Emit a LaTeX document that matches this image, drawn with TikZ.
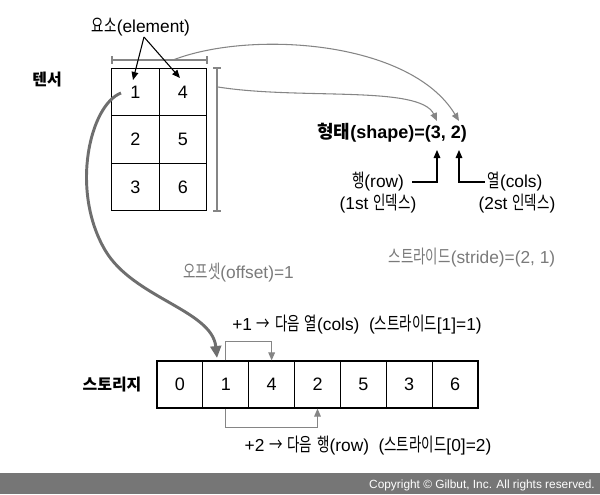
\documentclass[tikz,border=0pt]{standalone}
\usepackage{fontspec}
\setmainfont{Liberation Sans}
\newfontfamily\krreg[Scale=1.08,FakeStretch=0.72]{Noto Sans CJK KR}
\newfontfamily\krbold{Noto Sans CJK KR}
\let\kr\krreg
\def\lat{\rmfamily}
\XeTeXinterchartokenstate=1
\newXeTeXintercharclass\hangulclass
\count255="AC00
\loop
  \XeTeXcharclass\count255=\hangulclass
  \advance\count255 by 1
\ifnum\count255<"D7A4 \repeat
\XeTeXinterchartoks 0 \hangulclass = {\kr}
\XeTeXinterchartoks 4095 \hangulclass = {\kr}
\XeTeXinterchartoks \hangulclass 0 = {\lat}
\XeTeXinterchartoks \hangulclass 4095 = {\lat}
\newcommand\rarr{{\kr →}}
\usetikzlibrary{arrows.meta}
\definecolor{lg}{HTML}{858585}
\definecolor{dg}{HTML}{6E6E6E}
\definecolor{tg}{HTML}{7A7A7A}
\definecolor{band}{HTML}{767676}
\begin{document}
\begin{tikzpicture}[x=0.75pt,y=-0.75pt,
  cell/.style={draw,line width=0.9pt,inner sep=0pt,minimum width=35.6pt,minimum height=35.75pt,font=\fontsize{13.5}{15}\selectfont},
  scell/.style={cell,minimum width=34.4pt,minimum height=35.25pt},
  lab/.style={font=\fontsize{13}{15}\selectfont,inner sep=0pt},
  glab/.style={lab,text=tg},
  blab/.style={font={\let\kr\krbold\bfseries\fontsize{12}{14}\selectfont},inner sep=0pt},
  garr/.style={draw=lg,line width=0.8pt,-{Triangle[length=6pt,width=5pt]}},
  barr/.style={draw=black,line width=0.8pt,-{Triangle[length=6pt,width=5pt]}},
  bigarr/.style={draw=dg,line width=2.2pt,-{Triangle[length=9pt,width=8pt]}},
  brk/.style={draw=lg,line width=0.8pt}
]
\useasboundingbox (0,0) rectangle (600,494);
% tensor
\node[cell] (t11) at (135.5,92) {1};
\node[cell] (t12) at (183,92) {4};
\node[cell] (t21) at (135.5,139.5) {2};
\node[cell] (t22) at (183,139.5) {5};
\node[cell] (t31) at (135.5,187) {3};
\node[cell] (t32) at (183,187) {6};
\node[blab] (tensor) at (47,80) {텐서};
% brackets
\draw[brk] (112,56) -- (112,64) (112,60) -- (207,60) (207,56) -- (207,64);
\draw[brk] (213,68) -- (221,68) (217,68) -- (217,211) (213,211) -- (221,211);
\coordinate (tb) at (173,60);
\coordinate (rb) at (218,87);
% element label
\node[lab] (el) at (141,27) {요소(element)};
\coordinate (ela) at (144,37);
\coordinate (e1) at (133,80);
\coordinate (e4) at (180,78);
\draw[barr] (ela) -- (e1);
\draw[barr] (ela) -- (e4);
% shape
\node[blab,font={\let\kr\krbold\bfseries\fontsize{13.5}{16}\selectfont}] (shape) at (392,133) {형태(shape)=(3, 2)};
\coordinate (c3t) at (437,121);
\coordinate (c2t) at (459,121);
\coordinate (c3b) at (437,150);
\coordinate (c2b) at (459,150);
\draw[garr] (tb) .. controls (250,30) and (410,40) .. (c2t);
\draw[garr] (rb) .. controls (300,100) and (420,85) .. (c3t);
\node[lab] (row) at (378,182) {행(row)};
\node[lab] (rowi) at (378,204) {(1st 인덱스)};
\node[lab] (col) at (515,182) {열(cols)};
\node[lab] (coli) at (517,204) {(2st 인덱스)};
\draw[barr] ([xshift=6pt]row.east) -| (c3b);
\draw[barr] ([xshift=-2pt]col.west) -| (c2b);
\node[glab] (stride) at (472,258) {스트라이드(stride)=(2, 1)};
\node[glab] (offset) at (238.5,273) {오프셋(offset)=1};
% storage
\foreach \v [count=\i from 0] in {0,1,4,2,5,3,6}
  \node[scell] (s\i) at ({179.93+45.86*\i},384.5) {\v};
\node[blab] (storage) at (112,385) {스토리지};
\coordinate (c1s) at (121,93);
\coordinate (cm) at (105,250);
\coordinate (off) at (217,358);
\draw[bigarr] (c1s) .. controls (90,105) and (70,190) .. (cm) .. controls (133,298) and (212,310) .. (off);
\draw[garr] (s1.north) -- ++(0,-19) -| (s2.north);
\draw[garr] (s1.south) -- ++(0,19) -| (s3.south);
\node[lab] (plus1) at (357,325) {+1 \rarr\ 다음 열(cols) \ (스트라이드[1]=1)};
\node[lab] (plus2) at (368,446) {+2 \rarr\ 다음 행(row) \ (스트라이드[0]=2)};
% footer
\fill[band] (0,473) rectangle (600,494);
\node[anchor=east,text=white,inner sep=0pt,font=\fontsize{8.9}{10}\selectfont] (copy) at (595,485) {Copyright © Gilbut, Inc. All rights reserved.};
\end{tikzpicture}
\end{document}
